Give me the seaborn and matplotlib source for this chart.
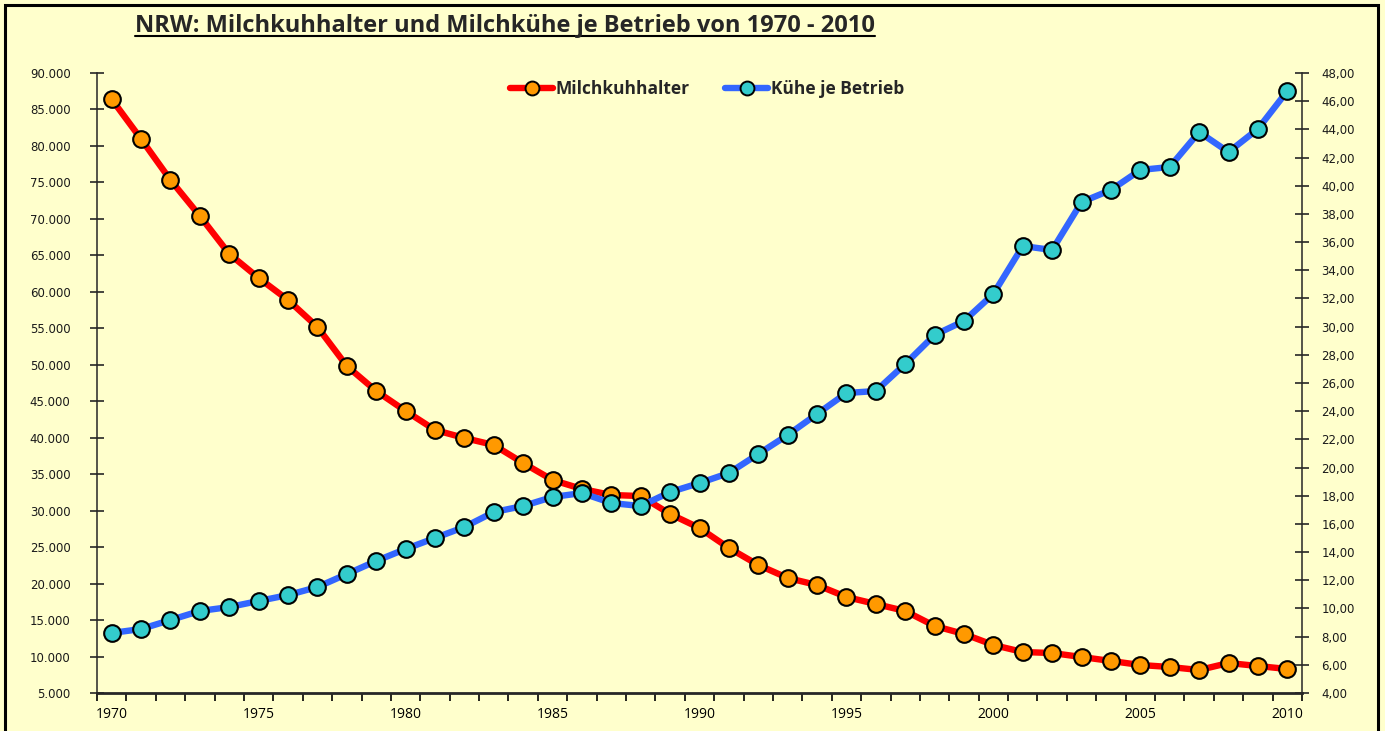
import numpy as np
import pandas as pd
import matplotlib
matplotlib.use("Agg")
import matplotlib.pyplot as plt
import seaborn as sns
from matplotlib.ticker import FuncFormatter, FixedLocator
from matplotlib.lines import Line2D
from matplotlib.patches import Rectangle

years = list(range(1970, 2011))
milchkuhhalter = [86400, 80950, 75330, 70400, 65200, 61900, 58880, 55180, 49830, 46400,
                  43660, 41060, 39960, 39000, 36530, 34200, 32970, 32150, 32000, 29540,
                  27620, 24880, 22550, 20770, 19800, 18160, 17200, 16240, 14190, 13090,
                  11580, 10620, 10480, 9935, 9390, 8840, 8565, 8150, 9110, 8700, 8290]
kuehe_je_betrieb = [8.26, 8.54, 9.18, 9.82, 10.10, 10.53, 10.95, 11.52, 12.44, 13.37,
                    14.22, 15.00, 15.78, 16.84, 17.27, 17.91, 18.19, 17.48, 17.27, 18.26,
                    18.90, 19.61, 20.96, 22.31, 23.80, 25.29, 25.43, 27.35, 29.41, 30.40,
                    32.32, 35.72, 35.44, 38.84, 39.70, 41.12, 41.33, 43.81, 42.39, 44.03, 46.72]
year_labels = [str(y) for y in range(1970, 2011, 5)]
title = "NRW: Milchkuhhalter und Milchkühe je Betrieb von 1970 - 2010"
label_red = "Milchkuhhalter"
label_blue = "Kühe je Betrieb"

sns.set_style("ticks")
plt.rcParams['font.family'] = ['Open Sans', 'DejaVu Sans']

bg = "#FFFFCC"
df = pd.DataFrame({"idx": np.arange(len(years)), "halter": milchkuhhalter, "kuehe": kuehe_je_betrieb})

fig = plt.figure(figsize=(13.85, 7.31), dpi=100, facecolor=bg)
ax = fig.add_axes([97/1385, 38/731, 1205/1385, 620/731])
ax.set_facecolor(bg)
ax2 = ax.twinx()

sns.lineplot(data=df, x="idx", y="halter", ax=ax, color="#FF0000", linewidth=4.6,
             marker="o", markersize=12, markerfacecolor="#FF9900",
             markeredgecolor="black", markeredgewidth=1.5, label=label_red, legend=False)
sns.lineplot(data=df, x="idx", y="kuehe", ax=ax2, color="#3366FF", linewidth=4.6,
             marker="o", markersize=12, markerfacecolor="#33CCCC",
             markeredgecolor="black", markeredgewidth=1.5, label=label_blue, legend=False)

ax.set_xlim(-0.5, len(years) - 0.5)
ax.set_ylim(5000, 90000)
ax2.set_ylim(4, 48)
ax.set_xlabel("")
ax.set_ylabel("")
ax2.set_ylabel("")

ax.set_yticks(np.arange(5000, 90001, 5000))
ax2.set_yticks(np.arange(4, 48.1, 2))
ax.yaxis.set_major_formatter(FuncFormatter(lambda v, p: f"{int(v):,}".replace(",", ".")))
ax2.yaxis.set_major_formatter(FuncFormatter(lambda v, p: f"{v:.2f}".replace(".", ",")))

label_pos = [years.index(int(y)) for y in year_labels]
ax.set_xticks(label_pos)
ax.set_xticklabels(year_labels)
ax.xaxis.set_minor_locator(FixedLocator(np.arange(-0.5, len(years), 1.0)))
ax.tick_params(axis="x", which="major", length=0, pad=10, labelsize=10, colors="black")
ax.tick_params(axis="x", which="minor", length=6, width=1.2, direction="out", color="black")
ax.tick_params(axis="y", which="major", length=10, width=1.2, direction="inout",
               labelsize=8.5, pad=14, labelcolor="#1a1a1a")
ax2.tick_params(axis="y", which="major", length=10, width=1.2, direction="inout",
                labelsize=8.5, pad=9, labelcolor="#1a1a1a")
for lab in ax.get_yticklabels() + ax2.get_yticklabels():
    lab.set_fontfamily("DejaVu Sans")

for a in (ax, ax2):
    a.spines["top"].set_visible(False)
    a.spines["bottom"].set_linewidth(2)
    a.spines["left"].set_linewidth(1.1)
    a.spines["right"].set_linewidth(1.1)
ax.spines["right"].set_visible(False)
ax2.spines["left"].set_visible(False)
ax2.spines["bottom"].set_visible(False)

handles = [
    Line2D([], [], color="#FF0000", linewidth=4.6, marker="o", markersize=10,
           markerfacecolor="#FF9900", markeredgecolor="black", markeredgewidth=1.4),
    Line2D([], [], color="#3366FF", linewidth=4.6, marker="o", markersize=10,
           markerfacecolor="#33CCCC", markeredgecolor="black", markeredgewidth=1.4),
]
leg = ax2.legend(handles, [label_red, label_blue], loc="center", ncol=2,
                 bbox_to_anchor=(707/1385, (731-89)/731), bbox_transform=fig.transFigure,
                 frameon=False, handlelength=2.5, handletextpad=0.15, columnspacing=2.0,
                 prop={"weight": "bold", "size": 12.5})

t = fig.text(135/1385, (731-26)/731, title, fontsize=17, fontweight="bold",
             ha="left", va="center")
fig.canvas.draw()
bb = t.get_window_extent()
inv = fig.transFigure.inverted()
(x0, y0), (x1, y1) = inv.transform([[bb.x0, bb.y0], [bb.x1, bb.y1]])
fig.add_artist(Line2D([x0, x1], [y0 + 0.003, y0 + 0.003], color="black", linewidth=1.5,
                      transform=fig.transFigure))

fig.add_artist(Rectangle((5/1385, -10/731), 1373/1385, 736/731, transform=fig.transFigure,
                         fill=False, edgecolor="black", linewidth=2.2))

fig.savefig("out.png", dpi=100, facecolor=bg)
